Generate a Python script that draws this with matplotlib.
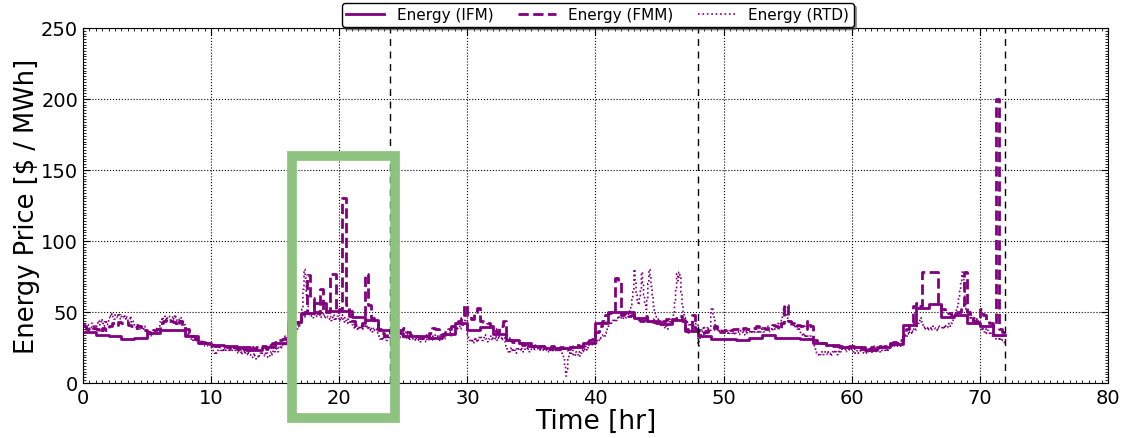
import numpy as np
import matplotlib
matplotlib.use("Agg")
import matplotlib.pyplot as plt
from matplotlib.patches import Rectangle
from matplotlib.ticker import MultipleLocator

# hourly day-ahead (IFM) price, $/MWh
ifm = [36, 34, 33, 31, 32, 35, 37.5, 37.5, 33, 28, 26.5, 26,
       25, 23.5, 25, 28.5, 42.7, 49, 56.5, 51, 51, 46.5, 44.5, 37.5,
       35.5, 33.3, 33, 31.5, 34.5, 42, 37.5, 39.5, 34.5, 30.5, 28, 25.8,
       24.8, 24.4, 25, 28.4, 42, 49.8, 49.8, 45.5, 44, 41.8, 44.6, 36.5,
       33.3, 31.2, 30.8, 30.5, 31.5, 33.8, 31.8, 31.6, 31, 28.5, 26.5, 25.2,
       25, 23.5, 25, 27.5, 40.8, 53, 55.6, 46.7, 48, 42, 40, 34]

# 15-min (FMM) price, one row per hour
fmm = [40, 38, 37, 39,  38, 36, 39, 37,  40, 42, 41, 43,  42, 43, 41, 40,
       39, 40, 38, 37,  36, 35, 37, 38,  42, 44, 45, 44,  43, 41, 44, 40,
       38, 36, 33, 31,  30, 29, 28, 27,  27, 26, 26, 25,  26, 25, 24, 25,
       24, 25, 24, 23,  25, 24, 25, 26,  26, 24, 27, 28,  29, 30, 31, 33,
       38, 44, 40, 43,  47, 50, 76, 60,  50, 49, 66, 50,  50, 77, 77, 50,
       52, 130, 55, 47,  44, 41, 40, 42,  77, 55, 46, 42,  38, 35, 33, 36,
       36, 34, 35, 37,  39, 36, 34, 33,  33, 32, 34, 33,  35, 39, 38, 34,
       34, 36, 38, 40,  42, 44, 46, 55,  48, 45, 50, 53,  44, 43, 42, 40,
       38, 36, 40, 44,  32, 30, 29, 28,  28, 27, 28, 26,  26, 27, 25, 26,
       25, 24, 26, 25,  24, 25, 23, 24,  25, 26, 27, 26,  28, 29, 30, 31,
       36, 40, 44, 48,  49, 50, 74, 72,  48, 49, 47, 48,  46, 45, 44, 47,
       44, 45, 43, 42,  42, 44, 45, 43,  45, 46, 47, 44,  38, 36, 48, 38,
       37, 35, 36, 38,  38, 40, 37, 36,  37, 38, 37, 38,  38, 37, 39, 38,
       38, 39, 40, 38,  39, 38, 40, 41,  40, 38, 42, 55,  44, 42, 40, 41,
       40, 38, 44, 40,  30, 29, 28, 28,  27, 27, 26, 26,  26, 25, 25, 26,
       26, 25, 25, 24,  25, 24, 25, 26,  26, 25, 26, 27,  28, 29, 30, 30,
       34, 38, 42, 54,  56, 54, 78, 78,  78, 78, 78, 56,  52, 50, 49, 47,
       48, 50, 55, 78,  50, 46, 44, 45,  52, 48, 44, 42,  40, 200, 38, 36]

# 5-min real-time (RTD) price, one row per hour
rtd = [
    41, 42, 40, 39, 41, 40, 38, 39, 42, 40, 41, 39,
    40, 42, 44, 41, 43, 45, 42, 40, 43, 44, 41, 42,
    46, 48, 47, 49, 46, 45, 48, 47, 46, 49, 48, 45,
    47, 46, 48, 45, 47, 46, 44, 45, 47, 43, 44, 42,
    41, 40, 39, 42, 38, 40, 41, 39, 38, 40, 37, 38,
    36, 34, 37, 35, 33, 36, 38, 35, 37, 39, 38, 40,
    43, 45, 44, 46, 47, 45, 44, 46, 47, 45, 43, 46,
    47, 45, 48, 46, 44, 45, 43, 46, 44, 42, 43, 41,
    36, 34, 33, 35, 32, 31, 33, 30, 31, 29, 30, 31,
    29, 28, 27, 29, 28, 27, 26, 28, 27, 26, 27, 26,
    25, 24, 22, 21, 20, 22, 23, 24, 25, 23, 24, 22,
    24, 23, 25, 24, 23, 22, 24, 23, 25, 24, 23, 22,
    22, 21, 23, 22, 20, 21, 22, 23, 21, 20, 22, 21,
    20, 19, 18, 20, 21, 19, 17, 18, 20, 19, 21, 20,
    21, 20, 19, 22, 21, 18, 19, 21, 22, 20, 23, 22,
    23, 24, 22, 25, 26, 24, 27, 26, 28, 27, 29, 30,
    31, 33, 32, 34, 36, 35, 37, 36, 38, 40, 39, 42,
    46, 52, 66, 80, 74, 62, 55, 50, 48, 47, 49, 46,
    48, 50, 47, 49, 51, 48, 46, 50, 49, 47, 48, 46,
    47, 46, 45, 47, 44, 46, 48, 45, 44, 46, 47, 45,
    46, 44, 48, 45, 43, 46, 44, 42, 45, 43, 44, 42,
    41, 40, 38, 41, 39, 37, 40, 38, 39, 41, 38, 40,
    39, 41, 38, 40, 37, 39, 38, 36, 39, 37, 38, 36,
    34, 33, 31, 32, 30, 33, 31, 32, 30, 31, 33, 32,
    33, 35, 34, 32, 36, 34, 33, 35, 34, 32, 33, 34,
    32, 33, 31, 34, 32, 30, 31, 33, 32, 31, 30, 32,
    31, 30, 32, 31, 29, 30, 32, 31, 30, 29, 31, 30,
    31, 32, 30, 33, 31, 32, 34, 33, 31, 32, 30, 31,
    32, 33, 31, 34, 35, 33, 34, 36, 35, 33, 34, 36,
    36, 38, 37, 39, 40, 38, 41, 42, 40, 44, 48, 54,
    33, 31, 30, 29, 31, 28, 30, 32, 29, 31, 30, 32,
    33, 31, 30, 32, 34, 31, 30, 29, 31, 33, 32, 30,
    32, 31, 33, 30, 32, 31, 33, 32, 30, 31, 32, 29,
    26, 24, 22, 21, 23, 25, 22, 24, 23, 21, 24, 23,
    24, 23, 25, 24, 22, 23, 24, 25, 23, 24, 22, 23,
    24, 25, 23, 24, 26, 25, 24, 23, 25, 24, 23, 25,
    24, 23, 25, 24, 22, 23, 24, 23, 22, 24, 23, 22,
    23, 22, 24, 23, 21, 20, 18, 12, 5, 10, 17, 21,
    22, 21, 23, 20, 19, 22, 21, 20, 22, 19, 21, 23,
    24, 22, 26, 25, 23, 27, 26, 28, 27, 29, 28, 30,
    28, 29, 30, 31, 30, 32, 33, 34, 33, 35, 36, 38,
    40, 42, 41, 43, 44, 43, 45, 44, 46, 45, 47, 46,
    46, 45, 47, 48, 46, 49, 48, 50, 52, 55, 60, 65,
    80, 72, 62, 58, 55, 60, 66, 78, 70, 62, 56, 52,
    60, 70, 80, 76, 68, 62, 54, 50, 48, 46, 45, 44,
    43, 42, 40, 41, 39, 42, 40, 38, 41, 43, 42, 44,
    45, 50, 58, 66, 77, 72, 78, 74, 64, 55, 50, 46,
    44, 42, 43, 41, 40, 42, 43, 41, 39, 40, 42, 41,
    26, 30, 34, 36, 38, 40, 38, 37, 39, 38, 36, 37,
    52, 53, 48, 44, 40, 38, 37, 38, 36, 37, 38, 36,
    36, 35, 37, 36, 34, 35, 37, 36, 35, 34, 36, 35,
    35, 36, 34, 35, 37, 36, 35, 34, 36, 37, 35, 36,
    36, 35, 37, 36, 35, 38, 37, 36, 35, 37, 36, 38,
    37, 36, 38, 37, 39, 38, 36, 37, 38, 39, 37, 38,
    38, 39, 40, 42, 41, 43, 44, 48, 52, 55, 50, 46,
    44, 42, 43, 41, 40, 42, 39, 41, 40, 38, 39, 37,
    35, 34, 33, 35, 32, 34, 33, 31, 32, 33, 31, 30,
    27, 25, 23, 21, 20, 19, 20, 21, 22, 20, 21, 22,
    21, 20, 22, 21, 19, 20, 22, 23, 21, 22, 20, 21,
    23, 22, 24, 23, 25, 24, 22, 23, 24, 25, 23, 24,
    23, 22, 24, 21, 22, 23, 21, 22, 24, 23, 22, 21,
    22, 23, 21, 22, 24, 23, 22, 21, 23, 24, 22, 23,
    23, 24, 22, 25, 23, 24, 25, 23, 24, 22, 24, 25,
    25, 26, 27, 26, 28, 27, 26, 28, 27, 26, 28, 27,
    31, 32, 34, 33, 35, 34, 36, 35, 37, 36, 38, 37,
    38, 40, 42, 44, 46, 43, 41, 39, 40, 38, 39, 37,
    38, 39, 37, 38, 40, 39, 38, 37, 39, 38, 40, 39,
    39, 40, 38, 41, 40, 39, 41, 42, 40, 42, 44, 46,
    48, 50, 52, 56, 60, 66, 72, 78, 74, 68, 58, 52,
    50, 48, 46, 47, 45, 44, 46, 43, 45, 44, 42, 43,
    40, 38, 39, 37, 36, 38, 35, 37, 36, 34, 35, 33,
    33, 34, 32, 31, 33, 32, 30, 31, 33, 30, 29, 27,
]

day_marks = [24, 48, 72]
highlight = (16.3, 24.35, -25, 160)  # x0, x1, y0, y1 of the green box

purple = "#800080"


def step_series(vals, per_hour):
    t = np.arange(len(vals) + 1) / per_hour
    y = np.append(vals, vals[-1])
    return t, y


fig = plt.figure(figsize=(11.32, 4.39), dpi=100)
ax = fig.add_axes([0.0733, 0.1253, 0.9055, 0.8087])

t, y = step_series(ifm, 1)
ax.plot(t, y, drawstyle="steps-post", color=purple, lw=2, label="Energy (IFM)")
t, y = step_series(fmm, 4)
ax.plot(t, y, drawstyle="steps-post", color=purple, lw=2, ls="--", label="Energy (FMM)")
t, y = step_series(rtd, 12)
ax.plot(t, y, drawstyle="steps-post", color=purple, lw=1.2, ls=":", label="Energy (RTD)")

for d in day_marks:
    ax.axvline(d, color="black", ls="--", lw=1, dashes=(5, 4))

x0, x1, y0, y1 = highlight
ax.add_patch(Rectangle((x0, y0), x1 - x0, y1 - y0, fill=False, ec="#8dc37f",
                       lw=7, clip_on=False, zorder=10))

ax.set_xlim(0, 80)
ax.set_ylim(0, 250)
ax.xaxis.set_major_locator(MultipleLocator(10))
ax.yaxis.set_major_locator(MultipleLocator(50))
ax.xaxis.set_minor_locator(MultipleLocator(0.5))
ax.yaxis.set_minor_locator(MultipleLocator(2))
ax.tick_params(which="both", direction="in", top=True, right=True, labelsize=14)
ax.tick_params(which="major", length=5)
ax.tick_params(which="minor", length=2)
ax.grid(True, ls=":", color="black", lw=0.8)
ax.set_axisbelow(True)

ax.set_xlabel("Time [hr]", fontsize=19, labelpad=1)
ax.set_ylabel("Energy Price [$ / MWh]", fontsize=18.5, labelpad=1)

ax.legend(loc="center", bbox_to_anchor=(0.502, 1.037), ncol=3, fontsize=11,
          fancybox=True, shadow=True, columnspacing=1.6, handlelength=2.5,
          borderpad=0.3, framealpha=1, edgecolor="black")

fig.savefig("out.png", dpi=100)
